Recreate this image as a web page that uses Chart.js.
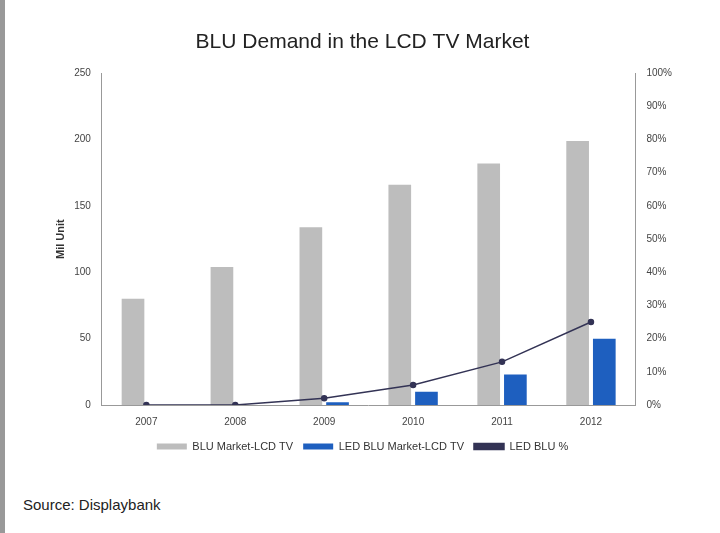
<!DOCTYPE html>
<html><head><meta charset="utf-8">
<script src="https://cdn.jsdelivr.net/npm/chart.js@4"></script>
<style>html,body{margin:0;padding:0;background:#fff}
#w{position:relative;width:720px;height:533px;border-left:5px solid #999;box-sizing:border-box}
#src{position:absolute;left:18px;top:496px;font:15px Arial,"Liberation Sans";color:#222}
</style></head><body>
<div id="w"><canvas id="c" width="715" height="480"></canvas><div id="src">Source: Displaybank</div></div>
<script>
const categories=["2007","2008","2009","2010","2011","2012"];
const bluMarket=[80,104,134,166,182,199];
const ledBlu=[0,0,2,10,23,50];
const ledPct=[0,0,2,6,13,25];
new Chart(document.getElementById('c'),{
 data:{labels:categories,datasets:[
  {type:'line',label:'LED BLU %',data:ledPct,yAxisID:'y1',borderColor:'#333355',backgroundColor:'#333355',borderWidth:1.5,pointRadius:2.5,tension:0,order:0},
  {type:'bar',label:'BLU Market-LCD TV',data:bluMarket,backgroundColor:'#bdbdbd',yAxisID:'y',barPercentage:0.85,categoryPercentage:0.6,order:1},
  {type:'bar',label:'LED BLU Market-LCD TV',data:ledBlu,backgroundColor:'#1e5fbf',yAxisID:'y',barPercentage:0.85,categoryPercentage:0.6,order:1}
 ]},
 options:{responsive:false,animation:false,
  layout:{padding:{left:45,right:45,top:0,bottom:18}},
  plugins:{title:{display:true,text:'BLU Demand in the LCD TV Market',font:{size:21,family:'Arial',weight:'normal'},color:'#222',padding:{top:30,bottom:18}},
   legend:{position:'bottom',labels:{boxWidth:30,boxHeight:6,font:{size:11},color:'#333',
    generateLabels(ch){return Chart.defaults.plugins.legend.labels.generateLabels(ch).sort((a,b)=>(a.datasetIndex===0)-(b.datasetIndex===0));}}}},
  scales:{
   x:{grid:{display:false},border:{color:'#999'},ticks:{font:{size:10},color:'#444'}},
   y:{min:0,max:250,ticks:{stepSize:50,font:{size:10},color:'#444'},grid:{display:false},border:{color:'#999'},
      title:{display:true,text:'Mil Unit',font:{size:11,weight:'bold'},color:'#333'}},
   y1:{position:'right',min:0,max:100,ticks:{stepSize:10,callback:v=>v+'%',font:{size:10},color:'#444'},grid:{display:false},border:{color:'#999'}}
  }}
});
</script></body></html>
